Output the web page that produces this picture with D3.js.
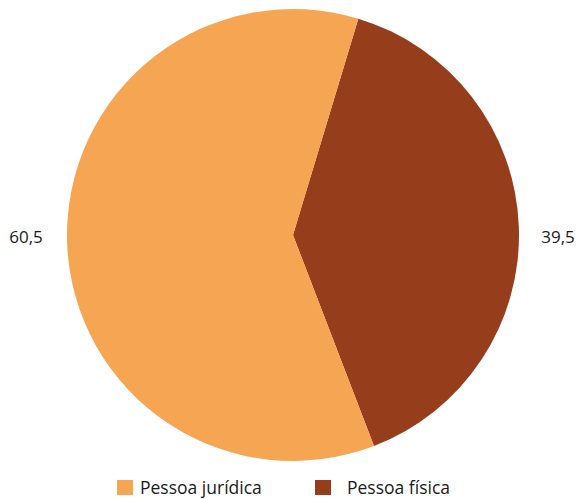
<!DOCTYPE html>
<html>
<head>
<meta charset="utf-8">
<script src="https://cdn.jsdelivr.net/npm/d3@7"></script>
<style>
  html, body { margin: 0; padding: 0; background: #ffffff; }
  svg { display: block; }
  text { font-family: "Open Sans", "Noto Sans", sans-serif; fill: #1a1a1a; }
</style>
</head>
<body>
<svg id="chart" width="579" height="499"></svg>
<script>
// Share by type of person (%)
const categories = ["Pessoa jurídica", "Pessoa física"];
const values = [60.5, 39.5];
const colors = ["#F6A653", "#963D1B"];
const valueLabels = ["60,5", "39,5"];

const svg = d3.select("#chart");
const cx = 293, cy = 235, r = 226;

const deg = Math.PI / 180;
const startOffset = 16.8 * deg; // física slice starts just right of 12 o'clock

const data = categories.map((c, i) => ({ name: c, value: values[i], color: colors[i], label: valueLabels[i] }));

// física first going clockwise from startOffset, jurídica fills the rest
const pie = d3.pie()
  .sort(null)
  .value(d => d.value)
  .startAngle(startOffset)
  .endAngle(startOffset + 2 * Math.PI);

const arcs = pie([data[1], data[0]]);
const arc = d3.arc().innerRadius(0).outerRadius(r);

const g = svg.append("g").attr("transform", `translate(${cx},${cy})`);
g.selectAll("path")
  .data(arcs)
  .join("path")
  .attr("d", arc)
  .attr("fill", d => d.data.color);

// value labels outside the pie, at left and right
const labelPos = { "Pessoa jurídica": { x: 26, y: 243 },
                   "Pessoa física": { x: 558, y: 243 } };
svg.selectAll("text.value")
  .data(data)
  .join("text")
  .attr("class", "value")
  .attr("x", d => labelPos[d.name].x)
  .attr("y", d => labelPos[d.name].y)
  .attr("text-anchor", "middle")
  .attr("font-size", 17)
  .text(d => d.label);

// legend
const legendX = [117, 315];
const leg = svg.selectAll("g.legend")
  .data(data)
  .join("g")
  .attr("class", "legend")
  .attr("transform", (d, i) => `translate(${legendX[i]},480)`);
leg.append("rect")
  .attr("width", 16).attr("height", 15)
  .attr("fill", d => d.color);
leg.append("text")
  .attr("x", (d, i) => i === 0 ? 23 : 32)
  .attr("y", 14)
  .attr("font-size", 17.5)
  .text(d => d.name);
</script>
</body>
</html>
